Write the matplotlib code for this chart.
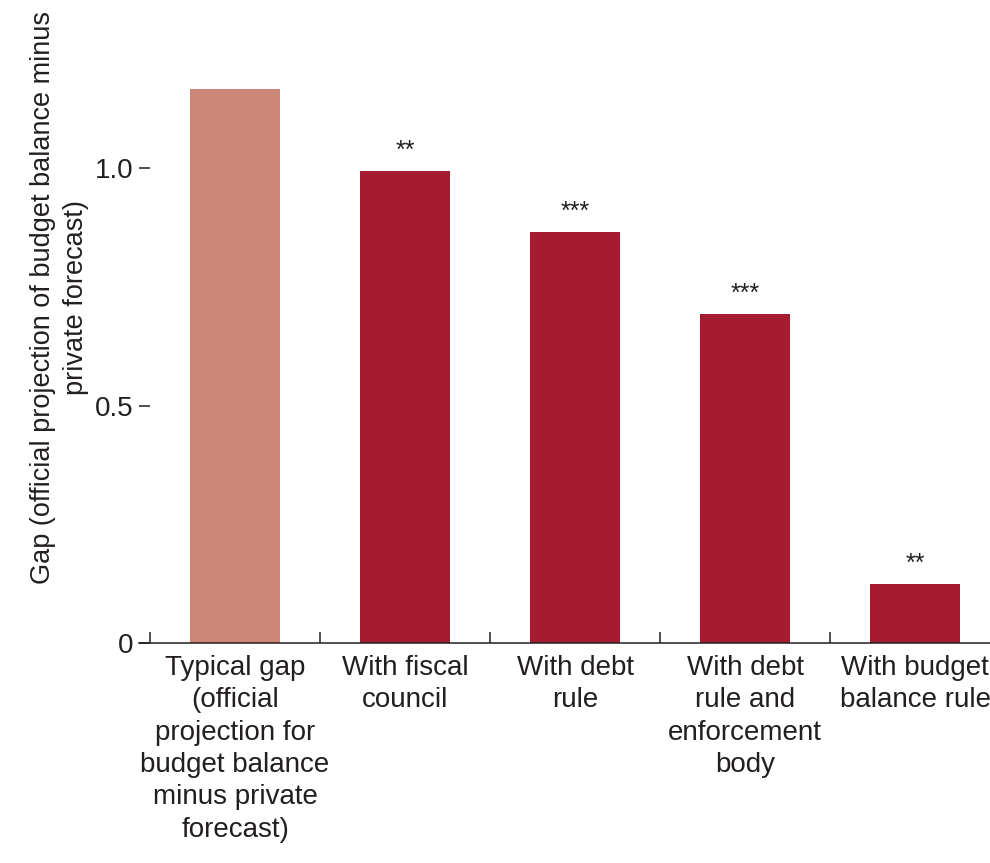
import matplotlib

matplotlib.use("Agg")
import matplotlib.pyplot as plt

categories = [
    "Typical gap\n(official\nprojection for\nbudget balance\nminus private\nforecast)",
    "With fiscal\ncouncil",
    "With debt\nrule",
    "With debt\nrule and\nenforcement\nbody",
    "With budget\nbalance rule",
]
gap_values = [1.166, 0.994, 0.865, 0.693, 0.124]
significance = ["", "**", "***", "***", "**"]
y_ticks = [0, 0.5, 1.0]
y_tick_labels = ["0", "0.5", "1.0"]

plt.rcParams["font.family"] = ["Liberation Sans", "DejaVu Sans"]
plt.rcParams["font.size"] = 20

LIGHT = "#CD8778"
DARK = "#A51C30"
INK = "#231F20"

fig = plt.figure(figsize=(9.9, 8.63), dpi=100)
ax = fig.add_axes([0.1404, 0.2549, 0.8596, 0.6605])

positions = list(range(len(categories)))
colors = [LIGHT] + [DARK] * (len(categories) - 1)
ax.bar(positions, gap_values, width=0.53, color=colors)

for x, v, s in zip(positions, gap_values, significance):
    if s:
        ax.annotate(s, (x, v), xytext=(0, 6), textcoords="offset points",
                    ha="center", va="bottom", fontsize=18, color=INK)

ax.set_xlim(-0.565, 4.44)
ax.set_ylim(0, 1.2)

for side in ("top", "right", "left"):
    ax.spines[side].set_visible(False)
ax.spines["bottom"].set_color(INK)
ax.spines["bottom"].set_linewidth(1.1)

ax.set_yticks(y_ticks)
ax.set_yticklabels(y_tick_labels)
ax.tick_params(axis="y", direction="in", length=8, width=1.1, color=INK,
               pad=4, labelcolor=INK)

# category boundaries carry the x ticks, labels sit under the bars
ax.set_xticks([p - 0.5 for p in positions])
ax.set_xticklabels([])
ax.tick_params(axis="x", direction="in", length=8, width=1.1, color=INK)
for x, label in zip(positions, categories):
    ax.text(x, -0.025, label, ha="center", va="top", color=INK,
            linespacing=1.32, transform=ax.transData)

fig.text(0.06, 0.655,
         "Gap (official projection of budget balance minus\nprivate forecast)",
         rotation=90, ha="center", va="center", multialignment="center",
         color=INK, linespacing=1.35, fontsize=19.5)

fig.savefig("out.png", dpi=100)
